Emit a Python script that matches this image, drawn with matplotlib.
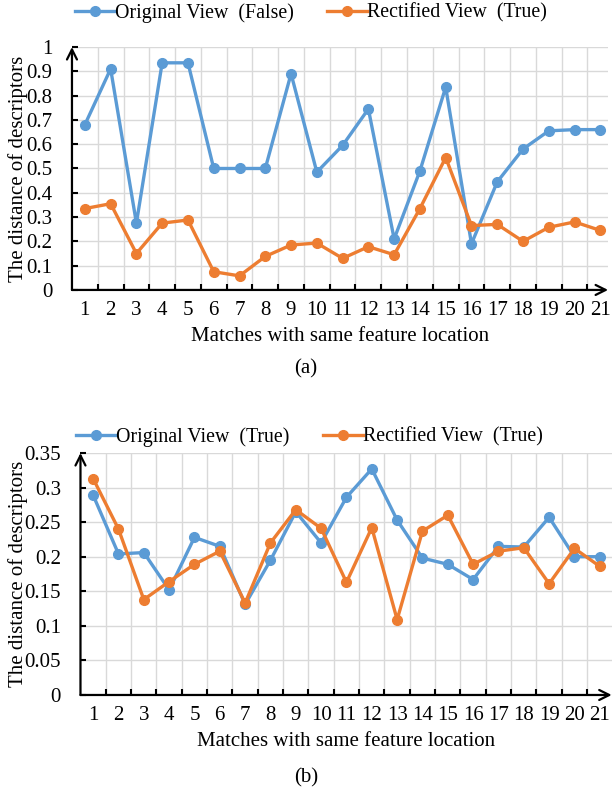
import numpy as np
import matplotlib.pyplot as plt

plt.rcParams['font.family'] = ['Liberation Serif', 'DejaVu Serif']

matches = np.arange(1, 22)

# (a)
orig_a = [0.68, 0.91, 0.275, 0.935, 0.935, 0.50, 0.50, 0.50, 0.89, 0.485, 0.595,
          0.745, 0.21, 0.49, 0.835, 0.19, 0.445, 0.58, 0.655, 0.66, 0.66]
rect_a = [0.335, 0.355, 0.15, 0.275, 0.288, 0.075, 0.058, 0.138, 0.185, 0.193, 0.13,
          0.178, 0.145, 0.335, 0.545, 0.265, 0.27, 0.20, 0.258, 0.28, 0.245]

# (b)
orig_b = [0.289, 0.204, 0.206, 0.152, 0.228, 0.215, 0.131, 0.195, 0.265, 0.22, 0.286,
          0.327, 0.253, 0.198, 0.189, 0.167, 0.215, 0.214, 0.257, 0.20, 0.20]
rect_b = [0.313, 0.24, 0.138, 0.164, 0.189, 0.208, 0.133, 0.22, 0.268, 0.241, 0.163,
          0.242, 0.109, 0.237, 0.26, 0.189, 0.208, 0.213, 0.161, 0.212, 0.186]

blue = '#5B9BD5'
orange = '#ED7D31'
fs = 15

fig = plt.figure(figsize=(6.12, 7.97), dpi=100)


def draw(ax, orig, rect, ymax, ystep, yfmt, xmax, lab_o, lab_r, leg_x, leg_y, cap, cap_y):
    ax.plot(matches, orig, color=blue, lw=2.4, marker='o', ms=7, label=lab_o)
    ax.plot(matches, rect, color=orange, lw=2.4, marker='o', ms=7, label=lab_r)
    ax.set_xlim(0.5, xmax)
    ax.set_ylim(0, ymax)
    for s in ax.spines.values():
        s.set_visible(False)
    # axes with arrows
    ax.annotate('', xy=(1, 0), xytext=(0, 0), xycoords='axes fraction',
                arrowprops=dict(arrowstyle='->', lw=1.6, color='black',
                                mutation_scale=18, shrinkA=0, shrinkB=0),
                annotation_clip=False)
    ax.annotate('', xy=(0, 1), xytext=(0, 0), xycoords='axes fraction',
                arrowprops=dict(arrowstyle='->', lw=1.6, color='black',
                                mutation_scale=18, shrinkA=0, shrinkB=0),
                annotation_clip=False)
    yt = np.arange(0, ymax + ystep / 2, ystep)
    ax.set_yticks(yt)
    ax.set_yticklabels([yfmt(v) for v in yt], fontsize=fs)
    bounds = np.arange(1.5, 21, 1)
    ax.set_xticks(bounds)
    ax.set_xticklabels([])
    ax.set_xticks(matches, minor=True)
    ax.set_xticklabels([str(m) for m in matches], minor=True, fontsize=fs)
    ax.tick_params(axis='x', which='major', direction='in', length=4, width=1.5)
    ax.tick_params(axis='x', which='minor', length=0, pad=8)
    ax.tick_params(axis='y', direction='in', length=4, width=1.5, pad=14)
    ax.grid(True, which='major', color='#D9D9D9', lw=1)
    ax.set_axisbelow(True)
    ax.set_xlabel('Matches with same feature location', fontsize=fs, labelpad=5)
    ax.set_ylabel('The distance of descriptors', fontsize=fs)
    pos = ax.get_position()
    ax.yaxis.set_label_coords(28 / 612, pos.y0 + pos.height / 2,
                              transform=fig.transFigure)
    fig.text(0.5, cap_y, cap, ha='center', va='center', fontsize=fs)
    fig.legend(handles=ax.get_lines(), loc='center',
               bbox_to_anchor=(leg_x, leg_y), ncol=2, frameon=False,
               fontsize=14.3, handlelength=2.0, handletextpad=0.0,
               columnspacing=1.7)


ax1 = fig.add_axes([0.1176, 0.6362, 0.876, 0.3048])
ax2 = fig.add_axes([0.1315, 0.1280, 0.868, 0.3036])

draw(ax1, orig_a, rect_a, 1.0, 0.1,
     lambda v: '0' if v == 0 else ('1' if v >= 1 else f'{v:.1f}'),
     21.3, 'Original View  (False)', 'Rectified View  (True)',
     0.508, 1 - 13 / 797, '(a)', 1 - 369 / 797)
draw(ax2, orig_b, rect_b, 0.35, 0.05,
     lambda v: '0' if v == 0 else f'{v:.2f}'.rstrip('0'),
     21.47, 'Original View  (True)', 'Rectified View  (True)',
     0.506, 1 - 437 / 797, '(b)', 1 - 778 / 797)

fig.savefig('out.png', dpi=100)
